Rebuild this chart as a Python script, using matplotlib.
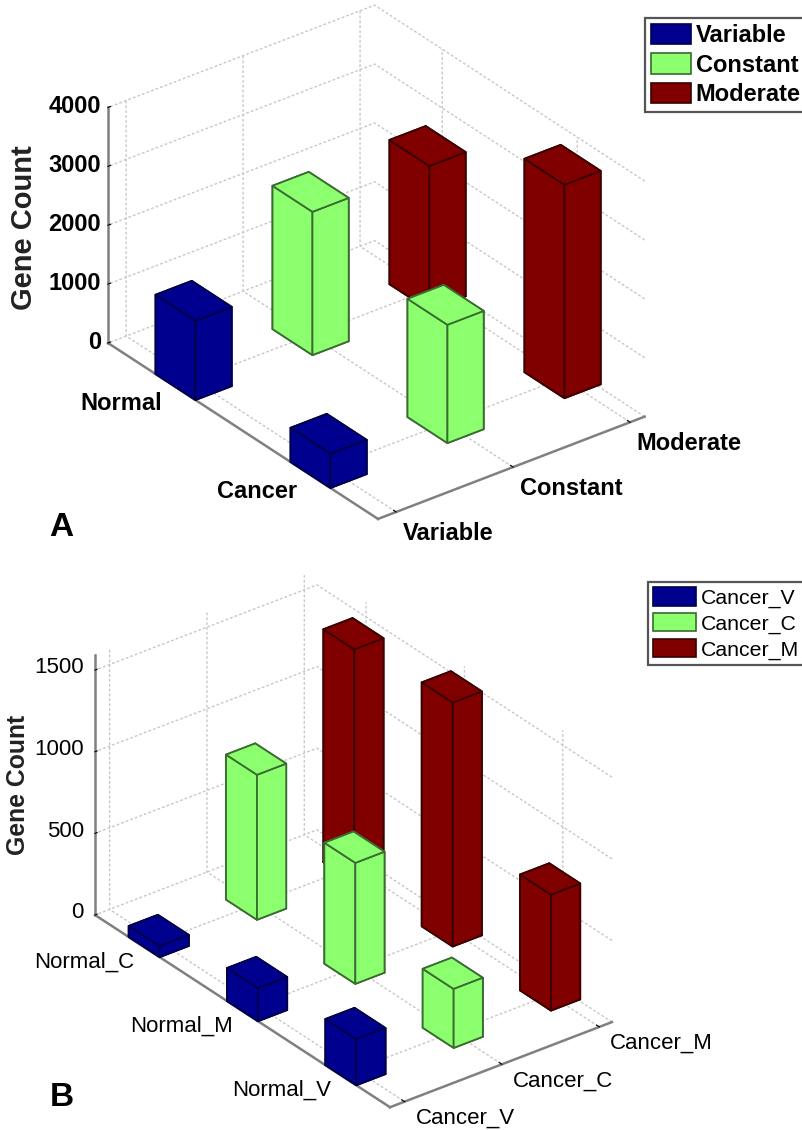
import matplotlib
matplotlib.use("Agg")
import matplotlib.pyplot as plt
from matplotlib.patches import Patch
from mpl_toolkits.mplot3d import proj3d
import numpy as np

# panel A
a_rows = ["Normal", "Cancer"]
a_cols = ["Variable", "Constant", "Moderate"]
a_variable = [1345, 580]
a_constant = [2434, 2009]
a_moderate = [2450, 3625]
a_zticks = [0, 1000, 2000, 3000, 4000]

# panel B
b_rows = ["Normal_C", "Normal_M", "Normal_V"]
b_cols = ["Cancer_V", "Cancer_C", "Cancer_M"]
b_legend = ["Cancer_V", "Cancer_C", "Cancer_M"]
b_variable = [67, 202, 282]
b_constant = [888, 741, 361]
b_moderate = [1427, 1494, 710]
b_zticks = [0, 500, 1000, 1500]

W, H = 803, 1130

bar_colors = ["#00008f", "#8cff6e", "#800000"]
edge_colors = ["#00004a", "#3a6b30", "#3a0000"]

plt.rcParams["font.family"] = ["Liberation Sans", "DejaVu Sans"]
plt.rcParams["grid.color"] = "#c8c8c8"
plt.rcParams["grid.linestyle"] = (0, (2, 1.5))
plt.rcParams["grid.linewidth"] = 1.0


def place_axes(ax, xlim, ylim, left_px, bottom_px):
    """Scale and shift the axes so two floor corners land on given pixels."""
    def corners():
        ax.apply_aspect()
        M = ax.get_proj()
        out = []
        for cx in xlim:
            x2, y2, _ = proj3d.proj_transform(cx, ylim[0], 0, M)
            out.append(ax.transData.transform((x2, y2)))
        return out

    for i in range(3):
        p0, p1 = corners()
        target0 = np.array([left_px[0], H - left_px[1]])
        target1 = np.array([bottom_px[0], H - bottom_px[1]])
        k = (target1[0] - target0[0]) / (p1[0] - p0[0])
        pos = ax.get_position(original=True)
        side = pos.width * k
        ax.set_position([pos.x0, pos.y0, side, side * W / H])
        p0, p1 = corners()
        pos = ax.get_position(original=True)
        ax.set_position([pos.x0 + (target0[0] - p0[0]) / W,
                         pos.y0 + (target0[1] - p0[1]) / H,
                         pos.width, pos.height])


def draw_bars(ax, rows, cols, series, width_x, width_y):
    items = []
    for c, values in enumerate(series):
        for r, v in enumerate(values):
            items.append((r + 1, c + 1, v, c))
    # far bars first
    items.sort(key=lambda t: t[0] - t[1])
    for n, (xc, yc, v, c) in enumerate(items):
        ax.bar3d(xc - width_x / 2, yc - width_y / 2, 0, width_x, width_y, v,
                 color=bar_colors[c], edgecolor=edge_colors[c], linewidth=1.3,
                 shade=False, zorder=10 + n)


def style_axes(ax, rows, cols, zticks, zlim, xlim, ylim, aspect, fs, weight, pads, y_va):
    ax.set_proj_type("ortho")
    ax.view_init(elev=30, azim=-37.5)
    ax.set_box_aspect(aspect)
    ax.computed_zorder = False
    ax.patch.set_alpha(0)
    ax.set_xlim(*xlim)
    ax.set_ylim(*ylim)
    ax.set_zlim(*zlim)
    ax.set_xticks(range(1, len(rows) + 1))
    ax.set_yticks(range(1, len(cols) + 1))
    ax.set_zticks(zticks)
    ax.set_xticklabels(rows, fontsize=fs, fontweight=weight, ha="right", va="center")
    ax.set_yticklabels(cols, fontsize=fs, fontweight=weight, ha="left", va=y_va)
    ax.set_zticklabels([str(z) for z in zticks], fontsize=fs, fontweight=weight,
                       ha="right", va="center")
    ax.zaxis.set_ticks_position("lower")
    for axis in (ax.xaxis, ax.yaxis, ax.zaxis):
        axis.set_pane_color((1, 1, 1, 0))
        axis.pane.set_edgecolor((1, 1, 1, 0))
        axis.line.set_color("#808080")
        axis.line.set_linewidth(1.8)
        axis._axinfo["tick"]["inward_factor"] = 0
        axis._axinfo["tick"]["outward_factor"] = 0.12
        axis._axinfo["tick"]["color"] = "#808080"
    ax.tick_params(axis="x", pad=pads[0])
    ax.tick_params(axis="y", pad=pads[1])
    ax.tick_params(axis="z", pad=pads[2])


fig = plt.figure(figsize=(W / 100, H / 100), dpi=100)

# --- A ---
ax_a = fig.add_axes([0.1, 0.5, 0.6, 0.6 * W / H], projection="3d")
style_axes(ax_a, a_rows, a_cols, a_zticks, (0, 4000), (0.5, 2.5), (0.845, 3.125),
           (442, 335, 271), 17, "bold", (3, -2.5, -5), "top")
draw_bars(ax_a, a_rows, a_cols, [a_variable, a_constant, a_moderate], 0.296, 0.31)
place_axes(ax_a, (0.5, 2.5), (0.845, 3.125), (108, 343), (378, 518))

# --- B ---
ax_b = fig.add_axes([0.1, 0.1, 0.6, 0.6 * W / H], projection="3d")
style_axes(ax_b, b_rows, b_cols, b_zticks, (0, 1590), (0.5, 3.5), (0.85, 3.13),
           (485, 280, 300), 16, "normal", (2, 0.5, -3), "center")
draw_bars(ax_b, b_rows, b_cols, [b_variable, b_constant, b_moderate], 0.315, 0.3)
place_axes(ax_b, (0.5, 3.5), (0.85, 3.13), (95, 915), (390, 1107))

# labels
fig.text(24 / W, 1 - 228 / H, "Gene Count", rotation=90, fontsize=21, fontweight="bold",
         ha="center", va="center", color="#222222")
fig.text(18 / W, 1 - 785 / H, "Gene Count", rotation=90, fontsize=17.8, fontweight="bold",
         ha="center", va="center", color="#222222")
fig.text(61 / W, 1 - 527 / H, "A", fontsize=24, fontweight="bold", ha="center", va="center")
fig.text(62 / W, 1 - 1098 / H, "B", fontsize=24, fontweight="bold", ha="center", va="center")

# legends
handles_a = [Patch(facecolor=f, edgecolor=e, linewidth=1.2) for f, e in zip(bar_colors, edge_colors)]
leg_a = fig.legend(handles_a, a_cols, loc="upper left", bbox_to_anchor=(645 / W, 1 - 18 / H),
                   prop={"size": 17, "weight": "bold"}, fancybox=False, framealpha=1,
                   edgecolor="#555555", borderaxespad=0, borderpad=0.25,
                   labelspacing=0.26, handlelength=1.7, handleheight=0.95, handletextpad=0.2)
leg_a.get_frame().set_linewidth(1.6)

leg_b = fig.legend(handles_a, b_legend, loc="upper left", bbox_to_anchor=(648 / W, 1 - 582 / H),
                   prop={"size": 15.3}, fancybox=False, framealpha=1,
                   edgecolor="#555555", borderaxespad=0, borderpad=0.25,
                   labelspacing=0.24, handlelength=2.0, handleheight=0.95, handletextpad=0.25)
leg_b.get_frame().set_linewidth(1.6)

fig.savefig("out.png", dpi=100)
